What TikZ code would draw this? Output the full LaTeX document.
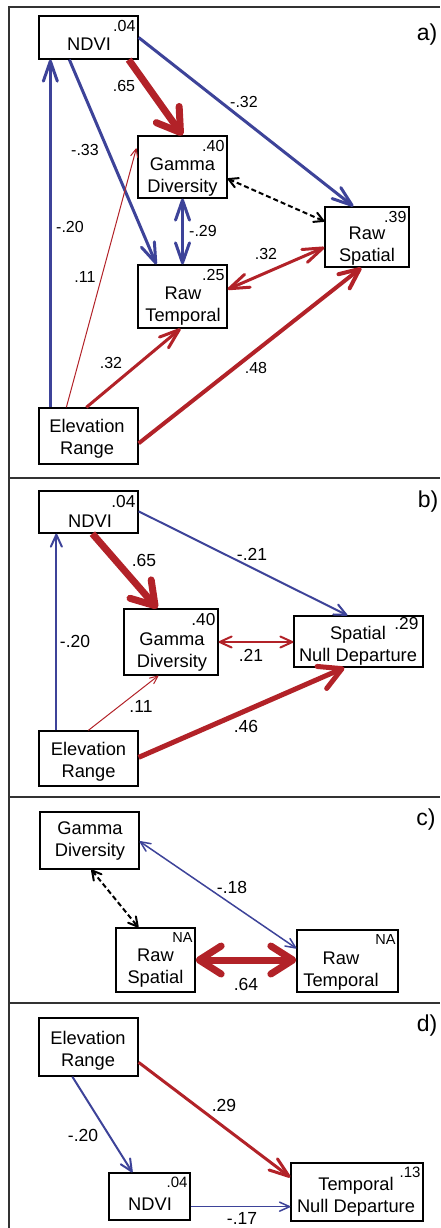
\documentclass[tikz,border=0pt]{standalone}
\usepackage{fontspec}
\setmainfont{Liberation Sans}
\usetikzlibrary{arrows.meta}
\definecolor{posred}{RGB}{178,34,40}
\definecolor{negblue}{RGB}{61,67,153}
\tikzset{
  box/.style={draw, line width=1.3pt, inner sep=0pt},
  vartext/.style={align=center, inner sep=0pt, font=\fontsize{18.3}{21.5}\selectfont},
  rsq/.style={anchor=north east, inner xsep=3pt, inner ysep=4.5pt, font=\fontsize{#1}{#1}\selectfont},
  rsq/.default=16,
  coef/.style={inner sep=0pt, font=\fontsize{#1}{#1}\selectfont},
  coef/.default=17.5,
  panel/.style={inner sep=0pt, font=\fontsize{23}{23}\selectfont},
  frame/.style={line width=1.3pt, draw=black!80},
  corr/.style={dash pattern=on 5pt off 3pt, line width=2pt, >={Straight Barb[length=9pt,width=10pt,round]}},
  w1/.style={line width=1pt, >={Straight Barb[length=8pt,width=7pt,round]}},
  w15/.style={line width=1.5pt, >={Straight Barb[length=10pt,width=9pt,round]}},
  w2/.style={line width=2pt, >={Straight Barb[length=12pt,width=11pt,round]}},
  w3/.style={line width=3pt, >={Straight Barb[length=20pt,width=14pt,round]}},
  w4/.style={line width=4pt, >={Straight Barb[length=20pt,width=18pt,round]}},
  w5/.style={line width=5pt, >={Straight Barb[length=22pt,width=24pt,round]}},
  w7/.style={line width=7pt, >={Straight Barb[length=22pt,width=28pt,round]}},
}

\begin{document}
\begin{tikzpicture}[x=1pt, y=-1pt]
  \useasboundingbox (0,0) rectangle (440,1228);

  % Panel frames
  \draw[frame] (9,1228) -- (9,7) -- (440,7);
  \draw[frame] (9,478) -- (440,478);
  \draw[frame] (9,797) -- (440,797);
  \draw[frame] (9,1003) -- (440,1003);

  % ---------------- a) ----------------
  \node[box, minimum width=99pt, minimum height=43pt] (a-ndvi) at (88.5,37.5) {};
  \node[box, minimum width=89pt, minimum height=62pt] (a-gam) at (182.5,167) {};
  \node[box, minimum width=84pt, minimum height=60pt] (a-rs) at (367,237) {};
  \node[box, minimum width=89pt, minimum height=63pt] (a-rt) at (182.5,296.5) {};
  \node[box, minimum width=99pt, minimum height=56pt] (a-elev) at (88.5,436) {};

  \node[vartext] (a-ndvi-t) at (89,44) {NDVI};
  \node[vartext] (a-gam-t) at (182.5,177) {Gamma\\Diversity};
  \node[vartext] (a-rs-t) at (367,246) {Raw\\Spatial};
  \node[vartext] (a-rt-t) at (183,306) {Raw\\Temporal};
  \node[vartext] (a-elev-t) at (87,439) {Elevation\\Range};

  \node[rsq] (a-ndvi-r) at (a-ndvi.north east) {.04};
  \node[rsq] (a-gam-r) at (a-gam.north east) {.40};
  \node[rsq] (a-rs-r) at (a-rs.north east) {.39};
  \node[rsq] (a-rt-r) at (a-rt.north east) {.25};

  % paths
  \draw[negblue, w3, ->] ([shift={(12,0)}]a-elev.north west) -- ([shift={(12,0)}]a-ndvi.south west);
  \draw[negblue, w3, ->] ([shift={(31,0)}]a-ndvi.south west) -- ([shift={(19,0)}]a-rt.north west);
  \draw[posred, w7, ->] ([shift={(-10,0)}]a-ndvi.south east) -- (a-gam.north);
  \draw[negblue, w3, ->] (a-ndvi.east) -- ([shift={(29,0)}]a-rs.north west);
  \draw[corr, <->] ([shift={(0,-20)}]a-gam.south east) -- ([shift={(0,15)}]a-rs.north west);
  \draw[negblue, w3, <->] (a-gam.south) -- (a-rt.north);
  \draw[posred, w3, <->] ([shift={(0,25)}]a-rt.north east) -- ([shift={(0,41)}]a-rs.north west);
  \draw[posred, w1, ->] ([shift={(28,0)}]a-elev.north west) -- ([shift={(-1,13)}]a-gam.north west);
  \draw[posred, w3, ->] ([shift={(48,0)}]a-elev.north west) -- ([shift={(-2,0)}]a-rt.south);
  \draw[posred, w4, ->] ([shift={(0,36)}]a-elev.north east) -- ([shift={(37,0)}]a-rs.south west);

  % coefficients
  \node[coef=16] (a-c1) at (70,227) {-.20};
  \node[coef=16] (a-c2) at (85,150) {-.33};
  \node[coef=16] (a-c3) at (124,86) {.65};
  \node[coef=16] (a-c4) at (244,102) {-.32};
  \node[coef=16] (a-c5) at (203,231) {-.29};
  \node[coef=16] (a-c6) at (266,254) {.32};
  \node[coef=16] (a-c7) at (85,277) {.11};
  \node[coef=16] (a-c8) at (111,363) {.32};
  \node[coef=16] (a-c9) at (256,368) {.48};

  \node[panel] (a-lab) at (427,35) {a)};

  % ---------------- b) ----------------
  \node[box, minimum width=99pt, minimum height=42pt] (b-ndvi) at (88.5,512) {};
  \node[box, minimum width=94pt, minimum height=66pt] (b-gam) at (171,642) {};
  \node[box, minimum width=129pt, minimum height=51pt] (b-snd) at (358.5,641.5) {};
  \node[box, minimum width=99pt, minimum height=55pt] (b-elev) at (88.5,758.5) {};

  \node[vartext] (b-ndvi-t) at (90,521.5) {NDVI};
  \node[vartext] (b-gam-t) at (172,652) {Gamma\\Diversity};
  \node[vartext] (b-snd-t) at (358,646) {Spatial\\Null Departure};
  \node[vartext] (b-elev-t) at (88.5,762) {Elevation\\Range};

  \node[rsq=17.3] (b-ndvi-r) at (b-ndvi.north east) {.04};
  \node[rsq=17.3] (b-gam-r) at (b-gam.north east) {.40};
  \node[rsq=17.3] (b-snd-r) at ([shift={(-2,-2.5)}]b-snd.north east) {.29};

  % paths
  \draw[negblue, w2, ->] ([shift={(18,0)}]b-elev.north west) -- ([shift={(18,0)}]b-ndvi.south west);
  \draw[posred, w7, ->] ([shift={(54,0)}]b-ndvi.south west) -- ([shift={(34,0)}]b-gam.north west);
  \draw[negblue, w2, ->] ([shift={(0,21)}]b-ndvi.north east) -- ([shift={(54,0)}]b-snd.north west);
  \draw[posred, w2, <->] (b-gam.east) -- (b-gam.east -| b-snd.west);
  \draw[posred, w1, ->] ([shift={(50,0)}]b-elev.north west) -- ([shift={(35,0)}]b-gam.south west);
  \draw[posred, w5, ->] ([shift={(0,27)}]b-elev.north east) -- ([shift={(51,0)}]b-snd.south west);

  % coefficients
  \node[coef] (b-c1) at (75,641) {-.20};
  \node[coef] (b-c2) at (144,560) {.65};
  \node[coef] (b-c3) at (252,554) {-.21};
  \node[coef] (b-c4) at (251,655) {.21};
  \node[coef] (b-c5) at (141,706) {.11};
  \node[coef] (b-c6) at (246,726) {.46};

  \node[panel] (b-lab) at (428,502) {b)};

  % ---------------- c) ----------------
  \node[box, minimum width=99pt, minimum height=57pt] (c-gam) at (89.5,840.5) {};
  \node[box, minimum width=79pt, minimum height=64pt] (c-rs) at (155.5,960) {};
  \node[box, minimum width=101pt, minimum height=62pt] (c-rt) at (347.5,961) {};

  \node[vartext] (c-gam-t) at (90,841) {Gamma\\Diversity};
  \node[vartext] (c-rs-t) at (155.5,968) {Raw\\Spatial};
  \node[vartext] (c-rt-t) at (341,971) {Raw\\Temporal};

  \node[rsq=14.5] (c-rs-r) at (c-rs.north east) {NA};
  \node[rsq=14.5] (c-rt-r) at (c-rt.north east) {NA};

  % paths
  \draw[negblue, w15, <->] ([shift={(0,30)}]c-gam.north east) -- ([shift={(0,19)}]c-rt.north west);
  \draw[corr, <->] ([shift={(52,0)}]c-gam.south west) -- ([shift={(23,0)}]c-rs.north west);
  \draw[posred, w7, <->] (c-rs.east) -- (c-rs.east -| c-rt.west);

  % coefficients
  \node[coef] (c-c1) at (232,887) {-.18};
  \node[coef] (c-c2) at (246,984) {.64};

  \node[panel] (c-lab) at (426,820) {c)};

  % ---------------- d) ----------------
  \node[box, minimum width=99pt, minimum height=58pt] (d-elev) at (88.5,1047) {};
  \node[box, minimum width=81pt, minimum height=47pt] (d-ndvi) at (149.5,1196.5) {};
  \node[box, minimum width=132pt, minimum height=58pt] (d-tnd) at (357,1192) {};

  \node[vartext] (d-elev-t) at (88,1051) {Elevation\\Range};
  \node[vartext] (d-ndvi-t) at (150,1204) {NDVI};
  \node[vartext] (d-tnd-t) at (356,1197) {Temporal\\Null Departure};

  \node[rsq=15] (d-ndvi-r) at (d-ndvi.north east) {.04};
  \node[rsq=15] (d-tnd-r) at (d-tnd.north east) {.13};

  % paths
  \draw[negblue, w2, ->] ([shift={(34,0)}]d-elev.south west) -- ([shift={(24,0)}]d-ndvi.north west);
  \draw[posred, w3, ->] ([shift={(0,45)}]d-elev.north east) -- ([shift={(0,15)}]d-tnd.north west);
  \draw[negblue, w15, ->] ([shift={(0,-14)}]d-ndvi.south east) -- ([shift={(0,-14)}]d-ndvi.south east -| d-tnd.west);

  % coefficients
  \node[coef] (d-c1) at (83,1135) {-.20};
  \node[coef] (d-c2) at (224,1105) {.29};
  \node[coef] (d-c3) at (242,1218) {-.17};

  \node[panel] (d-lab) at (427,1026) {d)};
\end{tikzpicture}
\end{document}
